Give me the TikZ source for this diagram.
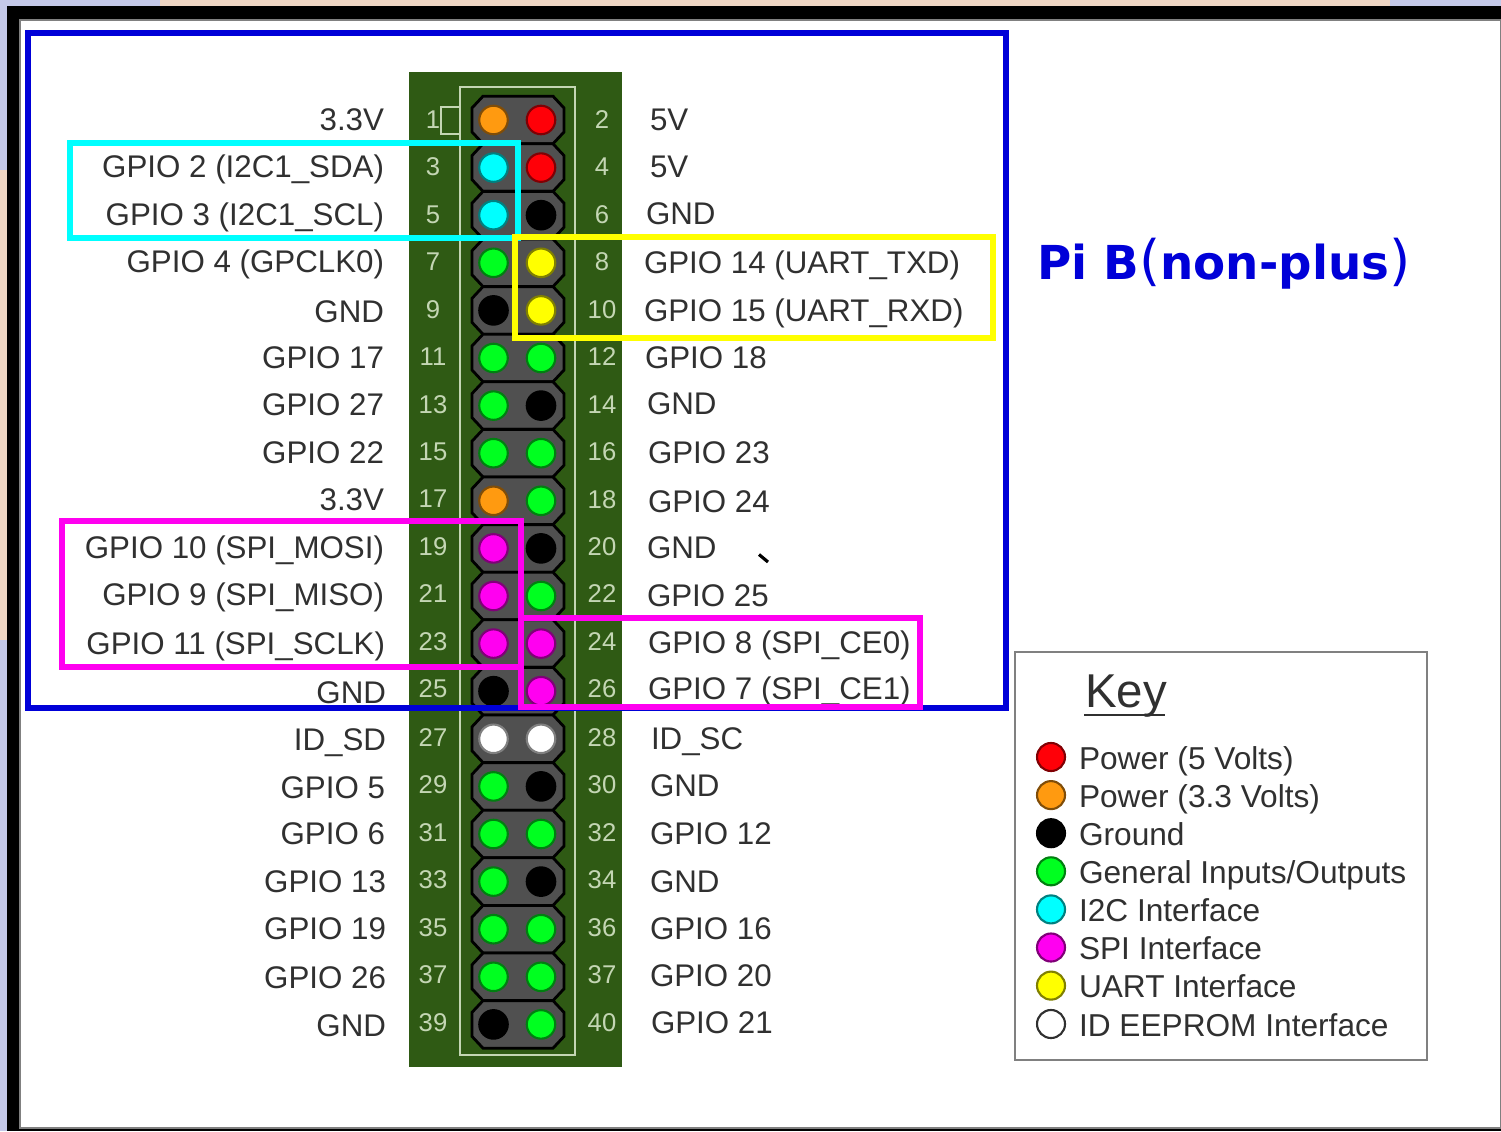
\documentclass[tikz,border=0pt]{standalone}
\usepackage{fontspec}
\setmainfont{Liberation Sans}
\newfontfamily\titlefont{DejaVu Sans}
\usepackage{xcolor}
\usepackage{tikz}
\definecolor{pagebg}{HTML}{C4C8E8}
\definecolor{peach}{HTML}{EFD6C4}
\definecolor{board}{HTML}{2F5A14}
\definecolor{silk}{HTML}{C4D6B4}
\definecolor{shroud}{HTML}{505050}
\definecolor{labeltxt}{HTML}{303030}
\definecolor{pred}{HTML}{FF0008}
\definecolor{porange}{HTML}{FF9A10}
\definecolor{pblack}{HTML}{000000}
\definecolor{pgreen}{HTML}{00FF20}
\definecolor{pcyan}{HTML}{00FFFF}
\definecolor{pmagenta}{HTML}{FF00F0}
\definecolor{pyellow}{HTML}{FFFF00}
\definecolor{pwhite}{HTML}{FFFFFF}
\definecolor{piblue}{HTML}{0000D8}
\newcommand{\lf}{\fontsize{8.9}{11}\selectfont}
\newcommand{\kf}{\fontsize{9}{11}\selectfont}
\newcommand{\nf}{\fontsize{7.3}{9}\selectfont}
\newcommand{\tparen}[1]{{\mdseries\fontsize{15.5}{16}\selectfont #1}}
\tikzset{
  pinlabel/.style={text=labeltxt, font=\lf},
  pinnum/.style={text=silk, font=\nf},
  pindot/.style={circle, draw=#1!50!black, fill=#1, line width=0.6pt, minimum size=0.285cm},
  keytext/.style={text=labeltxt, font=\kf, anchor=base west},
  hilite/.style={draw=#1, line width=1.7pt}
}
\begin{document}
\begin{tikzpicture}[x=0.01cm, y=-0.01cm, every node/.style={inner sep=0pt, outer sep=0pt}]
\useasboundingbox (0,0) rectangle (1501,1131);
% ---- page behind the window
\fill[pagebg] (0,0) rectangle (1501,1131);
\fill[peach] (160,0) rectangle (1390,6);
\fill[peach] (0,170) rectangle (7,640);
\fill[black] (7,6) rectangle (1501,1131);
\fill[white, draw=black!50, line width=0.4pt] (20,20) rectangle (1501,1128);
% ---- header board
\fill[board] (409,72) rectangle (622,1067);
\draw[silk, line width=0.6pt] (460,87) rectangle (575,1055);
\draw[silk, line width=0.6pt] (460,107) -- (441,107) -- (441,134) -- (460,134);
% shroud, one octagon per pair of pins
\foreach \i in {0,...,19} {
  \pgfmathsetmacro{\ypin}{120+\i*47.6}
  \draw[black, fill=shroud, line width=0.8pt]
    (483,\ypin-23.8) -- (553,\ypin-23.8) -- (564,\ypin-12) -- (564,\ypin+12)
    -- (553,\ypin+23.8) -- (483,\ypin+23.8) -- (472,\ypin+12) -- (472,\ypin-12) -- cycle;
}
% ---- pins, left and right column
\foreach \i/\cl/\cr in {0/porange/pred,1/pcyan/pred,2/pcyan/pblack,3/pgreen/pyellow,4/pblack/pyellow,
  5/pgreen/pgreen,6/pgreen/pblack,7/pgreen/pgreen,8/porange/pgreen,9/pmagenta/pblack,
  10/pmagenta/pgreen,11/pmagenta/pmagenta,12/pblack/pmagenta,13/pwhite/pwhite,14/pgreen/pblack,
  15/pgreen/pgreen,16/pgreen/pblack,17/pgreen/pgreen,18/pgreen/pgreen,19/pblack/pgreen} {
  \pgfmathsetmacro{\ypin}{120+\i*47.6}
  \node[pindot=\cl] (pinl\i) at (493.5,\ypin) {};
  \node[pindot=\cr] (pinr\i) at (541,\ypin) {};
}
% ---- numbers printed on the board
\foreach \n/\y in {1/120,3/167,5/215,7/262,9/310,11/357,13/405,15/452,17/499,19/547,21/594,23/642,25/689,27/738,29/785,31/833,33/880,35/928,37/975,39/1023}
  \node[pinnum] (numl\n) at (433,\y) {\n};
\node[pinnum] (numr2) at (602,120) {2};
\foreach \n/\lab/\y in {4/4/167,6/6/215,8/8/262,10/10/310,12/12/357,14/14/405,16/16/452,18/18/500,20/20/547,22/22/594,24/24/642,26/26/689,28/28/738,30/30/785,32/32/833,34/34/880,36/36/928,38/37/975,40/40/1023}
  \node[pinnum] (numr\n) at (602,\y) {\lab};
% ---- signal names
\foreach \n/\x/\y/\txt in {1/384/131/3.3V,3/384/178/GPIO 2 (I2C1\_SDA),5/384/226/GPIO 3 (I2C1\_SCL),
  7/384/273/GPIO 4 (GPCLK0),9/384/323/GND,11/384/369/GPIO 17,13/384/416/GPIO 27,15/384/463/GPIO 22,
  17/384/510/3.3V,19/384/558/GPIO 10 (SPI\_MOSI),21/384/605/GPIO 9 (SPI\_MISO),23/385/654/GPIO 11 (SPI\_SCLK),
  25/386/703/GND,27/386/750/ID\_SD,29/385/798/GPIO 5,31/385/844/GPIO 6,33/386/892/GPIO 13,
  35/386/939/GPIO 19,37/386/988/GPIO 26,39/386/1036/GND}
  \node[pinlabel, anchor=base east] (namel\n) at (\x,\y) {\txt};
\foreach \n/\x/\y/\txt in {2/650/131/5V,4/650/178/5V,6/646/225/GND,8/644/274/GPIO 14 (UART\_TXD),
  10/644/322/GPIO 15 (UART\_RXD),12/645/369/GPIO 18,14/647/415/GND,16/648/464/GPIO 23,18/648/512/GPIO 24,
  20/647/558/GND,22/647/606/GPIO 25,24/648/653/GPIO 8 (SPI\_CE0),26/648/699/GPIO 7 (SPI\_CE1),
  28/651/749/ID\_SC,30/650/796/GND,32/650/844/GPIO 12,34/650/892/GND,36/650/939/GPIO 16,
  38/650/986/GPIO 20,40/651/1033/GPIO 21}
  \node[pinlabel, anchor=base west] (namer\n) at (\x,\y) {\txt};
% stray mark right of GND
\draw[black, line width=0.9pt] (759,554.5) -- (768,562);
% ---- highlight frames
\draw[hilite=piblue] (28,33) rectangle (1006,708);
\draw[hilite=pcyan] (70,143) rectangle (518,238);
\draw[hilite=pyellow] (515,237) rectangle (993,338);
\draw[hilite=pmagenta] (62,521) rectangle (521,667);
\draw[hilite=pmagenta] (521,618) rectangle (920,707);
\node[anchor=base west, text=piblue, font=\titlefont\fontsize{13.3}{16}\selectfont\bfseries] (title) at (1037,280)
  {Pi B\tparen{(}non-plus\tparen{)}};
% ---- key
\draw[black!50, fill=white, line width=0.6pt] (1015,652) rectangle (1427,1060);
\node[anchor=base west, text=labeltxt, font=\fontsize{13.5}{15}\selectfont] (keyhead) at (1085,707) {Key};
\draw[labeltxt, line width=0.6pt] (1084,715) -- (1165,715);
\foreach \i/\cl/\txt in {0/pred/Power (5 Volts),1/porange/Power (3.3 Volts),2/pblack/Ground,
  3/pgreen/{General Inputs/Outputs},4/pcyan/I2C Interface,5/pmagenta/SPI Interface,
  6/pyellow/UART Interface} {
  \pgfmathsetmacro{\ykey}{757+\i*38.1}
  \node[pindot=\cl, minimum size=0.28cm] (keydot\i) at (1051,\ykey) {};
  \node[keytext] (keytxt\i) at (1079,\ykey+12) {\txt};
}
\node[pindot=pwhite, draw=labeltxt, minimum size=0.28cm] (keydot7) at (1051,1024) {};
\node[keytext] (keytxt7) at (1079,1036) {ID EEPROM Interface};
\end{tikzpicture}
\end{document}
